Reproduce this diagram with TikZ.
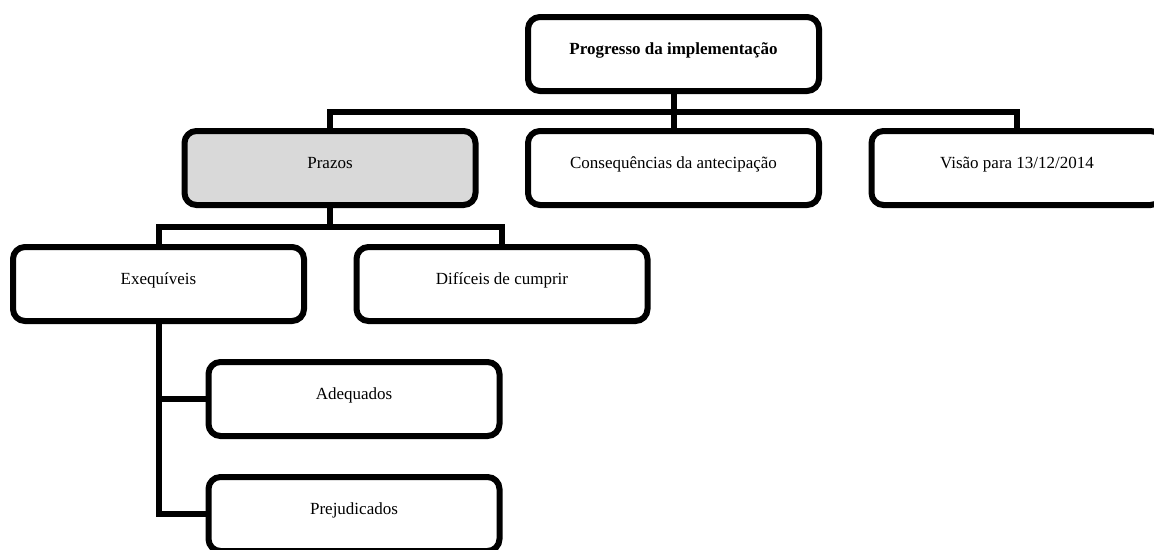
\documentclass[tikz,border=0pt]{standalone}
\usepackage{fontspec}
\setmainfont{Liberation Serif}
\begin{document}
\begin{tikzpicture}[x=1pt,y=-1pt,
  box/.style={draw=black, line width=6pt, rounded corners=12pt, fill=white,
    minimum width=291pt, minimum height=74pt, inner sep=0pt,
    text height=12pt, text depth=12pt, align=center,
    font=\fontsize{17}{20}\selectfont},
  conn/.style={draw=black, line width=6pt}]
\useasboundingbox (0,0) rectangle (1154,549);
\clip (0,0) rectangle (1154,549);

% boxes
\node[box, font=\fontsize{17}{20}\selectfont\bfseries] (top) at (673.5,54) {Progresso da implementação};
\node[box, fill={rgb,255:red,217;green,217;blue,217}] (prazos) at (330,168) {Prazos};
\node[box] (cons) at (673.5,168) {Consequências da antecipação};
\node[box] (visao) at (1017,168) {Visão para 13/12/2014};
\node[box] (exeq) at (158.5,284) {Exequíveis};
\node[box] (dif) at (502,284) {Difíceis de cumprir};
\node[box] (adeq) at (354,399) {Adequados};
\node[box] (prej) at (354,514) {Prejudicados};

% connector buses
\coordinate (bus1) at (673.5,112);
\coordinate (bus2) at (330,227);

\draw[conn] (top.south) -- (bus1);
\draw[conn] (prazos.north) |- (bus1) -| (visao.north);
\draw[conn] (bus1) -- (cons.north);

\draw[conn] (prazos.south) -- (bus2);
\draw[conn] (exeq.north) |- (bus2) -| (dif.north);

\draw[conn] (exeq.south) |- (adeq.west);
\draw[conn] (exeq.south) |- (prej.west);
\end{tikzpicture}
\end{document}
